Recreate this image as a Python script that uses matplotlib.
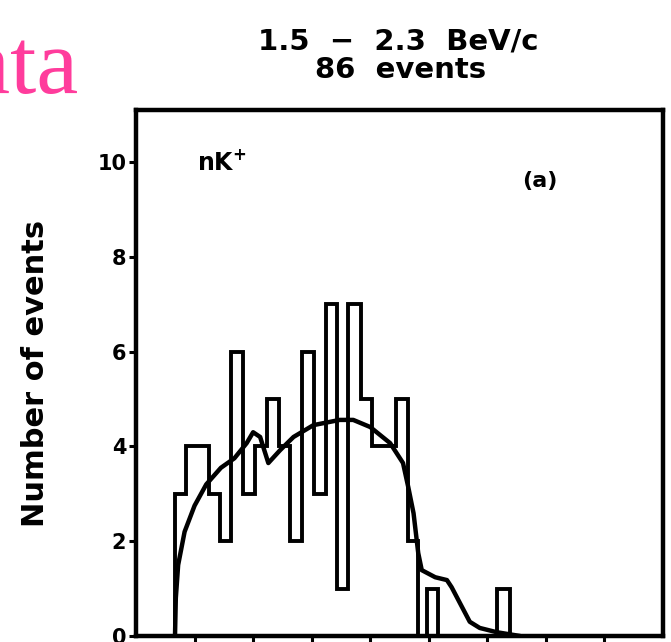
import numpy as np
import matplotlib
matplotlib.use("Agg")
import matplotlib.pyplot as plt

# Histogram (step) data
bin_edges = [0.66, 0.86, 1.24, 1.43, 1.63, 1.83, 2.03, 2.24, 2.44, 2.63, 2.84,
             3.04, 3.25, 3.43, 3.62, 3.84, 4.03, 4.44, 4.65, 4.82, 4.97, 5.16,
             6.17, 6.39]
counts = [3, 4, 3, 2, 6, 3, 4, 5, 4, 2, 6, 3, 7, 1, 7, 5, 4, 5, 2, 0, 1, 0, 1]

# Smooth curve
curve_x = [0.666, 0.68, 0.72, 0.83, 1.00, 1.20, 1.45, 1.68, 1.89, 2.00, 2.12,
           2.26, 2.46, 2.69, 3.03, 3.48, 3.71, 4.00, 4.34, 4.56, 4.65, 4.74,
           4.82, 4.88, 5.11, 5.31, 5.39, 5.53, 5.70, 5.87, 6.16, 6.56]
curve_y = [0.0, 0.8, 1.5, 2.2, 2.75, 3.2, 3.55, 3.75, 4.07, 4.30, 4.20,
           3.65, 3.92, 4.20, 4.45, 4.56, 4.56, 4.41, 4.07, 3.65, 3.14, 2.59,
           1.75, 1.39, 1.24, 1.18, 1.03, 0.70, 0.30, 0.17, 0.08, 0.0]

y_ticks = [0, 2, 4, 6, 8, 10]
x_ticks = [1, 2, 3, 4, 5, 6, 7, 8]

W, H = 671, 642
fig = plt.figure(figsize=(W / 100, H / 100), dpi=100)
ax = fig.add_axes([136 / W, (H - 636) / H, 527 / W, 526 / H])

ax.stairs(counts, bin_edges, color="black", linewidth=2.8, baseline=0, fill=False)
ax.plot(curve_x, curve_y, color="black", linewidth=3.2, solid_capstyle="round")

ax.set_xlim(0, 9)
ax.set_ylim(0, 11.1)
ax.set_yticks(y_ticks)
ax.set_yticklabels([str(v) for v in y_ticks], fontsize=15, fontweight="bold")
ax.set_xticks(x_ticks)
ax.set_xticklabels([])
ax.tick_params(axis="both", direction="out", length=5, width=2.2, pad=2)
for s in ax.spines.values():
    s.set_linewidth(3.2)

ax.set_ylabel("Number of events", fontsize=22, fontweight="bold", labelpad=34)

ax.text(1.05, 10.0, "nK$^{\\mathbf{+}}$", fontsize=17, fontweight="bold",
        ha="left", va="center")
ax.text(6.6, 9.6, "(a)", fontsize=16, fontweight="bold", ha="left", va="center")

fig.text(398 / W, 1 - 42 / H, "1.5  \u2212  2.3  BeV/c", fontsize=21,
         fontweight="bold", ha="center", va="center")
fig.text(401 / W, 1 - 70 / H, "86  events", fontsize=21,
         fontweight="bold", ha="center", va="center")

fig.text(79 / W, 1 - 93 / H, "Data", fontsize=68, color="#ff3c9c",
         family="Liberation Serif", ha="right", va="baseline")

fig.savefig("out.png", dpi=100)
